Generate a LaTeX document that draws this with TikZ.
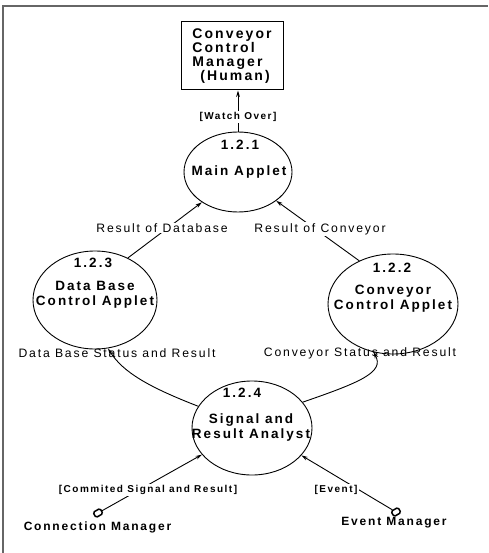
\documentclass[tikz,border=0pt]{standalone}
\usepackage{fontspec}
\setmainfont{Liberation Sans}[LetterSpace=15]
\usetikzlibrary{shapes.geometric,arrows.meta}
\tikzset{
  flow/.style={line width=0.9pt, -{Stealth[length=6.5pt,width=3.8pt]}},
  proc/.style={draw, ellipse, line width=0.9pt, inner sep=0pt},
  ptext/.style={font=\bfseries\fontsize{13.5}{15}\selectfont, align=center, inner sep=0pt},
  num/.style={font=\bfseries\fontsize{13.5}{15}\selectfont, inner sep=0pt},
  lbl/.style={font=\fontsize{12.2}{14}\selectfont, inner sep=1pt},
  wlbl/.style={lbl, fill=white},
  blbl/.style={font=\bfseries\fontsize{10}{12}\selectfont, fill=white, inner sep=1.5pt},
  ext/.style={font=\bfseries\fontsize{12}{14}\selectfont, inner sep=0pt},
  term/.style={draw, line width=1.5pt, rectangle, rounded corners=1.5pt, minimum width=8pt, minimum height=6pt, rotate=30, inner sep=0pt},
  extbox/.style={draw, line width=1pt, rectangle, minimum width=102pt, minimum height=68pt, align=left, inner sep=0pt, font=\bfseries\fontsize{14}{14}\selectfont},
  frameline/.style={draw=black!60, line width=1.2pt}
}
\begin{document}
\begin{tikzpicture}[x=1pt,y=-1pt]
\useasboundingbox (0,0) rectangle (488,553);
% frame
\coordinate (fl) at (3,553);
\coordinate (ftl) at (3,6);
\coordinate (ftr) at (488,6);
\draw[frameline] (fl) -- (ftl) -- (ftr);

% external entity box
\node[extbox] (box) at (232,56) {Conveyor\\Control\\Manager\\\hspace{8pt}(Human)};

% processes
\node[proc, minimum width=108pt, minimum height=80pt] (p1) at (238,172) {};
\node[num] (n1) at (240,145) {1.2.1};
\node[ptext] (t1) at (239,172) {Main Applet};

\node[proc, minimum width=124pt, minimum height=98pt] (p3) at (95,300) {};
\node[num] (n3) at (93,263) {1.2.3};
\node[ptext] (t3) at (95,294.5) {Data Base\\Control Applet};

\node[proc, minimum width=130pt, minimum height=100pt] (p2) at (393,304) {};
\node[num] (n2) at (392,268) {1.2.2};
\node[ptext] (t2) at (393,298.5) {Conveyor\\Control Applet};

\node[proc, minimum width=120pt, minimum height=94pt] (p4) at (252,428) {};
\node[num] (n4) at (242,393) {1.2.4};
\node[ptext] (t4) at (251,428) {Signal and\\Result Analyst};

% terminators
\node[term] (cm) at (98,513) {};
\node[term] (em) at (396,512) {};
\node[ext] (cmt) at (97.5,527) {Connection Manager};
\node[ext] (emt) at (394,523) {Event Manager};

% flows
\draw[flow] (p1.north) -- (p1.north |- box.south) node[blbl, pos=0.36] {[Watch Over]};

\draw[flow] (p3.52) -- (p1.220);
\node[wlbl] (l1) at (162,228) {Result of Database};

\draw[flow] (p2.128) -- (p1.323);
\node[wlbl] (l2) at (320,229) {Result of Conveyor};

\draw[flow] (p4.158) .. controls +(-49,-19) and +(15,24) .. (p3.285);
\node[lbl] (l3) at (117,353) {Data Base Status and Result};

\draw[flow] (p4.27) .. controls +(58,-20) and +(11,20) .. (p2.248);
\node[lbl] (l4) at (360,353) {Conveyor Status and Result};

\draw[flow] (cm) -- (p4.208);
\node[blbl] (l5) at (148,490) {[Commited Signal and Result]};

\draw[flow] (em) -- (p4.331);
\node[blbl] (l6) at (336,490) {[Event]};
\end{tikzpicture}
\end{document}
